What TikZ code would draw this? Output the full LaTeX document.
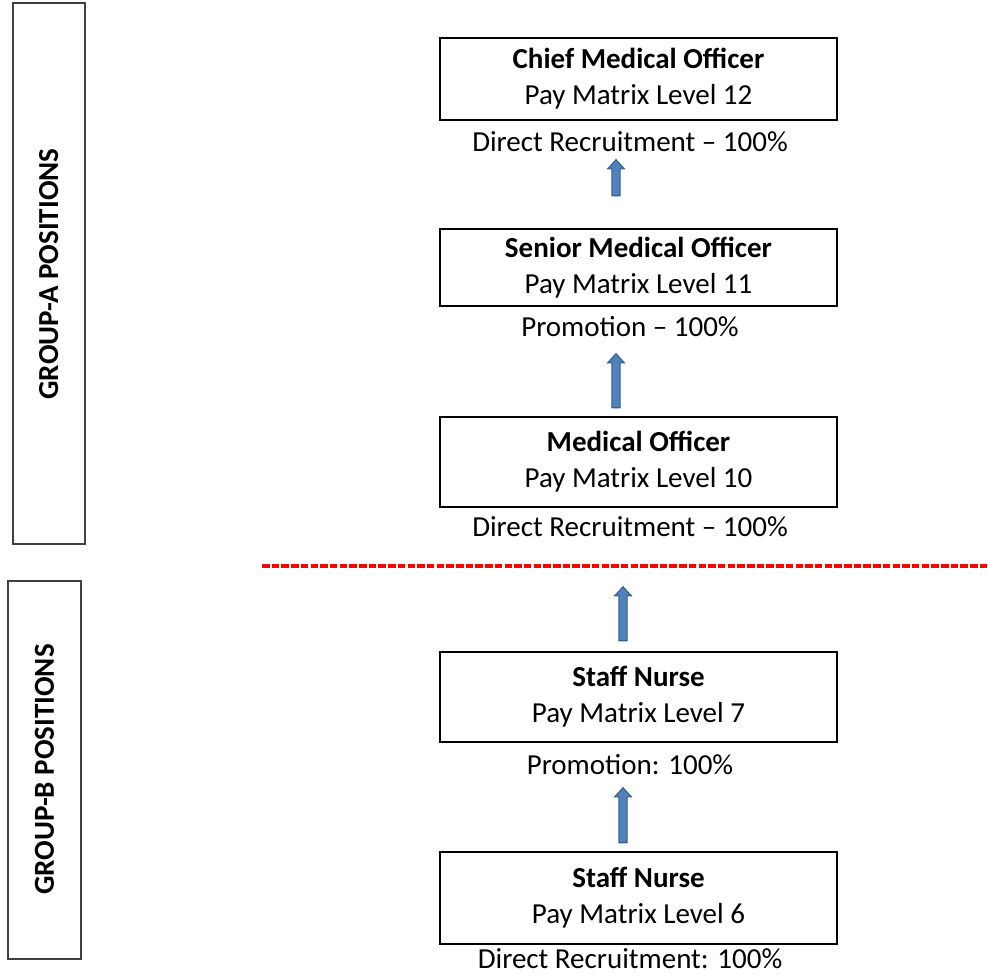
\documentclass[tikz,border=0pt]{standalone}
\usepackage{fontspec}
\setmainfont{Carlito}
\usetikzlibrary{shapes.arrows}
\definecolor{arrfill}{RGB}{79,129,189}
\definecolor{arrline}{RGB}{56,93,138}
\definecolor{sidegray}{RGB}{64,64,64}
\tikzset{
  posbox/.style={draw=black, line width=2pt, minimum width=397pt, align=center,
    font=\fontsize{29}{36}\selectfont, inner sep=0pt},
  lbl/.style={font=\fontsize{29}{36}\selectfont, inner sep=0pt},
  sidebox/.style={draw=sidegray, line width=1.6pt},
  sidetxt/.style={rotate=90, font=\fontsize{29}{34}\selectfont\bfseries, inner sep=0pt},
  uparr/.style={single arrow, rotate=90, draw=arrline, fill=arrfill, line width=1.1pt,
    inner xsep=0pt, inner ysep=3.6pt, minimum width=0pt, single arrow head extend=4.2pt,
    single arrow tip angle=85},
}
\begin{document}
\begin{tikzpicture}[x=1pt,y=-1pt]
\useasboundingbox (0,0) rectangle (988,976);
% side boxes
\node[sidebox, minimum width=72pt, minimum height=541pt] (ga) at (48.75,273.5) {};
\node[sidetxt] (gat) at (48.75,274) {GROUP-A POSITIONS};
\node[sidebox, minimum width=73pt, minimum height=378pt] (gb) at (44.5,770) {};
\node[sidetxt] (gbt) at (44.5,769.5) {GROUP-B POSITIONS};
% position boxes
\node[posbox, minimum height=82pt] (cmo) at (638.5,79) {\textbf{Chief Medical Officer}\\Pay Matrix Level 12};
\node[lbl] (l1) at (630,142) {Direct Recruitment – 100\%};
\node[posbox, minimum height=77pt] (smo) at (638.5,267.5) {\textbf{Senior Medical Officer}\\Pay Matrix Level 11};
\node[lbl] (l2) at (630,327) {Promotion – 100\%};
\node[posbox, minimum height=90pt] (mo) at (638.5,462) {\textbf{Medical Officer}\\Pay Matrix Level 10};
\node[lbl] (l3) at (630,527) {Direct Recruitment – 100\%};
\node[posbox, minimum height=90pt] (sn7) at (638.5,697) {\textbf{Staff Nurse}\\Pay Matrix Level 7};
\node[lbl] (l4) at (630,765) {Promotion: 100\%};
\node[posbox, minimum height=92pt] (sn6) at (638.5,898) {\textbf{Staff Nurse}\\Pay Matrix Level 6};
\node[lbl] (l5) at (630,959) {Direct Recruitment: 100\%};
% arrows
\node[uparr, minimum height=36pt] (a1) at (616,180) {};
\node[uparr, minimum height=54pt] (a2) at (616,383) {};
\node[uparr, minimum height=54pt] (a3) at (623,616) {};
\node[uparr, minimum height=55pt] (a4) at (623,817.5) {};
% divider
\coordinate (d1) at (262,566);
\coordinate (d2) at (988,566);
\draw[red, line width=3.5pt, dash pattern=on 7.5pt off 2.2pt] (d1) -- (d2);
\end{tikzpicture}
\end{document}
